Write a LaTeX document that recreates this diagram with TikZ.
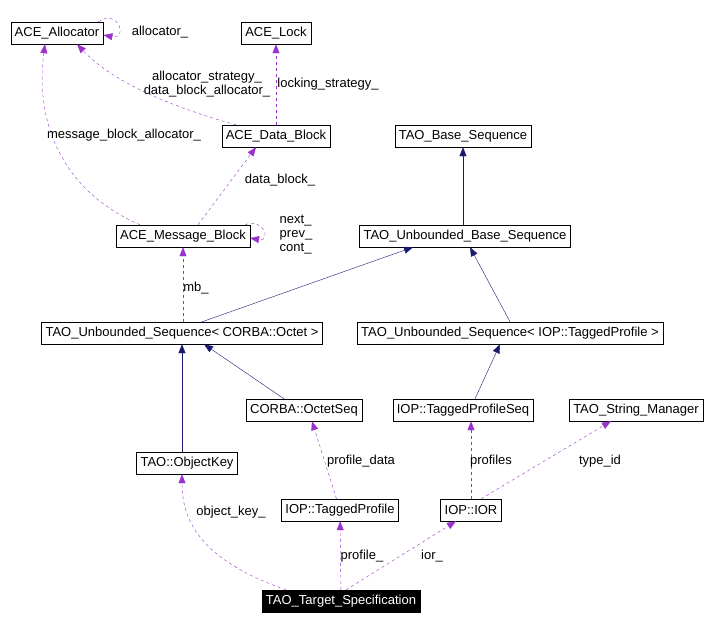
\documentclass[tikz,border=0pt]{standalone}
\usepackage{fontspec}
\setmainfont{Liberation Sans}
\usetikzlibrary{arrows.meta}
\definecolor{usecol}{RGB}{154,50,205}
\definecolor{inhcol}{RGB}{25,25,112}
\tikzset{
  cls/.style={draw, thin, fill=white, inner xsep=4pt, inner ysep=2pt, minimum height=22pt, font=\fontsize{13}{14}\selectfont},
  inh/.style={draw=inhcol, -{Triangle[length=9pt,width=7pt,fill=inhcol]}},
  use/.style={draw=usecol, dashed, -{Triangle[length=9pt,width=7pt,fill=usecol]}},
  lbl/.style={font=\fontsize{13}{14}\selectfont, align=center, inner sep=1pt}
}
\begin{document}
\begin{tikzpicture}[x=1pt,y=-1pt]
\useasboundingbox (0,0) rectangle (715,632);

\node[cls] (alloc) at (57,33) {ACE\_Allocator};
\node[cls] (lock) at (276,33) {ACE\_Lock};
\node[cls] (dblock) at (276,136) {ACE\_Data\_Block};
\node[cls] (bseq) at (463,136) {TAO\_Base\_Sequence};
\node[cls] (mblock) at (183,236) {ACE\_Message\_Block};
\node[cls] (ubseq) at (465,236) {TAO\_Unbounded\_Base\_Sequence};
\node[cls] (octseq) at (182,333) {TAO\_Unbounded\_Sequence< CORBA::Octet >};
\node[cls] (tpseq) at (510,333) {TAO\_Unbounded\_Sequence< IOP::TaggedProfile >};
\node[cls] (corbaos) at (304,410) {CORBA::OctetSeq};
\node[cls] (iotps) at (463,410) {IOP::TaggedProfileSeq};
\node[cls] (strmgr) at (636,410) {TAO\_String\_Manager};
\node[cls] (objkey) at (187,463) {TAO::ObjectKey};
\node[cls] (tprof) at (340,510) {IOP::TaggedProfile};
\node[cls] (ior) at (471,510) {IOP::IOR};
\node[cls, fill=black, text=white] (target) at (341,601) {TAO\_Target\_Specification};

% inheritance
\draw[inh] (bseq.south |- ubseq.north) -- (bseq);
\draw[inh] ([xshift=20pt]octseq.north) -- ([xshift=-52pt]ubseq.south);
\draw[inh] (tpseq.north) -- ([xshift=5pt]ubseq.south);
\draw[inh] (objkey.north -| octseq.south) -- (octseq);
\draw[inh] ([xshift=-20pt]corbaos.north) -- ([xshift=22pt]octseq.south);
\draw[inh] ([xshift=12pt]iotps.north) -- ([xshift=-10pt]tpseq.south);

% usage
\draw[use] ([xshift=-5pt]alloc.north east) .. controls +(20,-14) and +(25,5) .. ([yshift=-2pt]alloc.east);
\node[lbl] at (160,32) {allocator\_};
\draw[use] ([xshift=-40pt]dblock.north) .. controls (200,115) and (120,90) .. ([xshift=20pt]alloc.south);
\node[lbl] at (207,84) {allocator\_strategy\_\\data\_block\_allocator\_};
\draw[use] (dblock) -- (lock);
\node[lbl] at (328,84) {locking\_strategy\_};
\draw[use] ([xshift=-43pt]mblock.north) .. controls (60,190) and (35,120) .. ([xshift=-12pt]alloc.south);
\node[lbl] at (124,135) {message\_block\_allocator\_};
\draw[use] ([xshift=15pt]mblock.north) -- ([xshift=-20pt]dblock.south);
\node[lbl] at (280,180) {data\_block\_};
\draw[use] ([xshift=-5pt]mblock.north east) .. controls +(18,-8) and +(22,4) .. ([yshift=-2pt]mblock.east);
\node[lbl, align=left] at (296,235) {next\_\\prev\_\\cont\_};
\draw[use] (octseq.north -| mblock.south) -- (mblock.south);
\node[lbl] at (196,288) {mb\_};
\draw[use] (tprof) -- ([xshift=8pt]corbaos.south);
\node[lbl] at (361,461) {profile\_data};
\draw[use] (ior) -- (ior.north |- iotps.south);
\node[lbl] at (491,461) {profiles};
\draw[use] ([xshift=10pt]ior.north) -- ([xshift=-25pt]strmgr.south);
\node[lbl] at (600,461) {type\_id};
\draw[use] ([xshift=-55pt]target.north) .. controls (200,560) and (182,520) .. (objkey.south -| octseq.south);
\node[lbl] at (231,512) {object\_key\_};
\draw[use] (target) -- (tprof);
\node[lbl] at (362,556) {profile\_};
\draw[use] ([xshift=5pt]target.north) -- ([xshift=-15pt]ior.south);
\node[lbl] at (432,556) {ior\_};
\end{tikzpicture}
\end{document}
